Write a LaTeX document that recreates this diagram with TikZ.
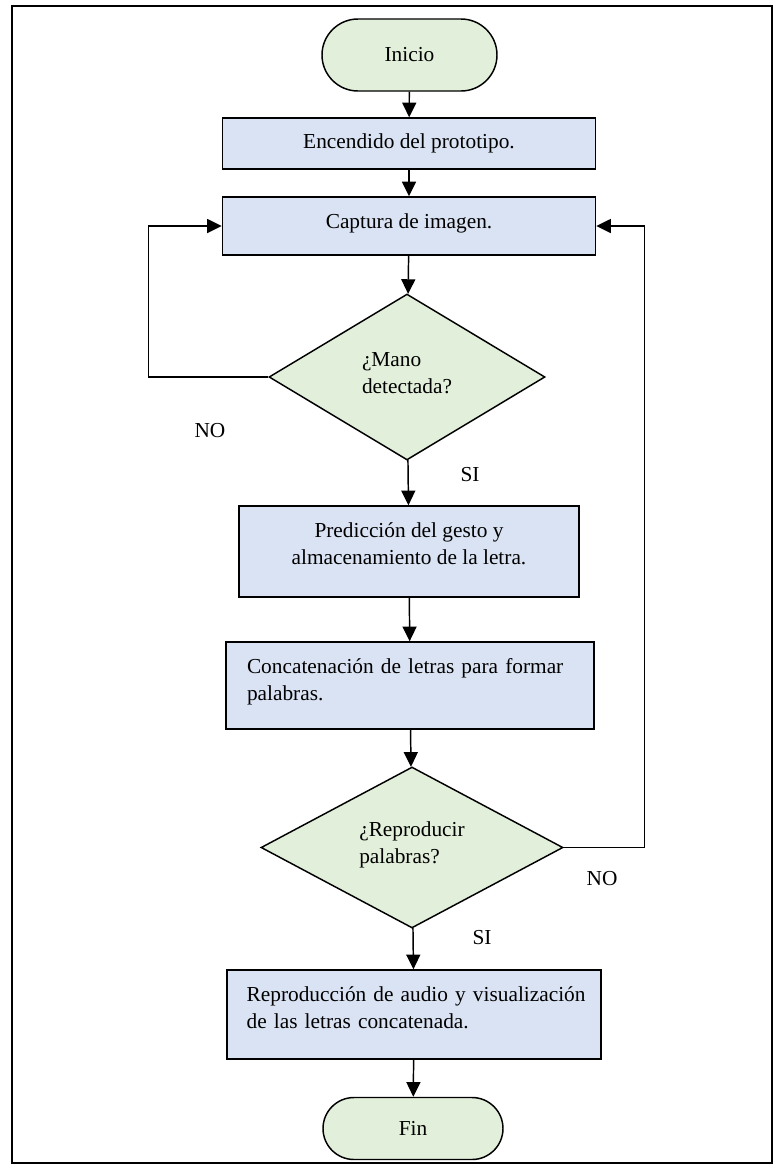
\documentclass[tikz,border=0pt]{standalone}
\usepackage{fontspec}
\setmainfont{Liberation Serif}
\usetikzlibrary{shapes.geometric,shapes.misc,arrows.meta}
\definecolor{cajaazul}{RGB}{218,227,243}
\definecolor{verdeclaro}{RGB}{226,239,218}
\newcommand{\bajar}[1]{\rule[-#1]{0pt}{#1}}

\begin{document}
\begin{tikzpicture}[x=0.75pt,y=0.75pt,yscale=-1,xscale=1,
  texto/.style={font=\fontsize{16}{20.25}\selectfont},
  terminal/.style={texto, rounded rectangle, draw, line width=1.1pt, fill=verdeclaro, inner sep=0pt},
  proceso/.style={texto, rectangle, draw, line width=1.1pt, fill=cajaazul, inner sep=0pt},
  decision/.style={texto, diamond, draw, line width=1.1pt, fill=verdeclaro, inner sep=0pt, align=left},
  flecha/.style={line width=1.1pt, -{Triangle[length=11pt,width=10.5pt]}}]
  \useasboundingbox (0,0) rectangle (777,1168);

  %Frame
  \draw [line width=1pt] (12,6) rectangle (772,1163);

  %Flowchart: Terminator
  \node [terminal, minimum width=131.25pt, minimum height=54pt] (inicio) at (409.5,55) {Inicio};
  %Flowchart: Process
  \node [proceso, minimum width=279.75pt, minimum height=38.25pt] (encendido) at (409,143.5) {Encendido del prototipo.};
  %Flowchart: Process
  \node [proceso, minimum width=279.75pt, minimum height=43.5pt] (captura) at (409,226) {Captura de imagen.\bajar{8pt}};
  %Flowchart: Decision
  \node [decision, minimum width=207pt, minimum height=124.5pt] (mano) at (407,377) {¿Mano\\detectada?\bajar{6pt}};
  %Flowchart: Process
  \node [proceso, align=center, minimum width=255pt, minimum height=68.25pt] (prediccion) at (409,551.5)
  {Predicción del gesto y\\almacenamiento de la letra.\bajar{12pt}};
  %Flowchart: Process
  \node [proceso, align=left, text width=244.5pt, minimum width=276pt, minimum height=65.25pt] (concatenacion) at (410,685.5)
  {\mbox{Concatenación de letras para formar}\\\mbox{palabras.}\bajar{9.5pt}};
  %Flowchart: Decision
  \node [decision, minimum width=226.5pt, minimum height=120.75pt] (reproducir) at (412,847.5) {¿Reproducir\\palabras?\bajar{7.25pt}};
  %Flowchart: Process
  \node [proceso, align=left, text width=251pt, minimum width=280.5pt, minimum height=66.75pt] (reproduccion) at (414,1014.5)
  {\mbox{Reproducción de audio y visualización}\\\mbox{de las letras concatenada.}\bajar{10pt}};
  %Flowchart: Terminator
  \node [terminal, minimum width=135pt, minimum height=46.5pt] (fin) at (413,1128.5) {Fin};

  %Straight Lines
  \draw [flecha] (inicio) -- (encendido);
  \draw [flecha] (encendido) -- (captura);
  \draw [flecha] (captura) -- (mano);
  \draw [flecha] (mano) -- (prediccion);
  \draw [flecha] (prediccion) -- (concatenacion);
  \draw [flecha] (concatenacion) -- (reproducir);
  \draw [flecha] (reproducir) -- (reproduccion);
  \draw [flecha] (reproduccion) -- (fin);
  %Loops
  \draw [flecha] (mano.west) -- ++(-120,0) |- (captura.west);
  \draw [flecha] (reproducir.east) -- ++(81,0) |- (captura.east);

  % Text Node
  \node [texto] (no1) at (210,431) {NO};
  \node [texto] (si1) at (470,475) {SI};
  \node [texto] (no2) at (602,879) {NO};
  \node [texto] (si2) at (482,938) {SI};

\end{tikzpicture}
\end{document}
